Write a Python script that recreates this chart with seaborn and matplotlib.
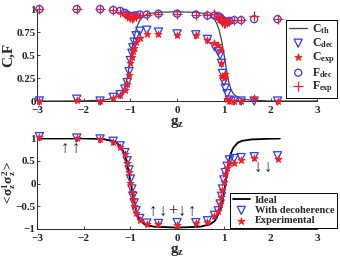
import matplotlib
matplotlib.use("Agg")
import matplotlib.pyplot as plt
import seaborn as sns
import pandas as pd

# coupling values where the points were taken
gz = [-2.95, -2.15, -1.65, -1.37, -1.22, -1.12, -1.07, -1.03, -1.0, -0.97, -0.95, -0.92,
      -0.88, -0.8, -0.65, -0.4, 0.0, 0.4, 0.65, 0.8, 0.88, 0.92, 0.95, 0.97, 1.0, 1.03,
      1.07, 1.12, 1.22, 1.37, 1.65, 2.15]

# top panel: concurrence and fidelity
C_dec = [0.0, 0.02, 0.0, 0.04, 0.07, 0.13, 0.2, 0.32, 0.44, 0.52, 0.58, 0.64, 0.71, 0.76,
         0.77, 0.75, 0.73, 0.72, 0.67, 0.59, 0.54, 0.5, 0.41, 0.3, 0.21, 0.14, 0.08, 0.01,
         0.0, 0.0, 0.0, 0.0]
C_exp = [0.0, 0.01, 0.0, 0.03, 0.06, 0.12, 0.18, 0.28, 0.41, 0.48, 0.54, 0.58, 0.64, 0.69,
         0.73, 0.73, 0.72, 0.72, 0.66, 0.63, 0.61, 0.55, 0.41, 0.27, 0.25, 0.29, 0.02, 0.0,
         0.0, 0.0, 0.03, 0.0]
F_dec = [1.0, 1.0, 1.0, 0.99, 0.98, 0.96, 0.94, 0.93, 0.92, 0.92, 0.92, 0.93, 0.93, 0.94,
         0.94, 0.95, 0.95, 0.94, 0.93, 0.93, 0.92, 0.91, 0.89, 0.88, 0.87, 0.86, 0.86, 0.87,
         0.88, 0.88, 0.89, 0.89]
F_exp = [1.0, 1.0, 1.0, 0.99, 0.97, 0.95, 0.93, 0.92, 0.91, 0.9, 0.91, 0.92, 0.93, 0.94,
         0.94, 0.95, 0.95, 0.94, 0.94, 0.95, 0.93, 0.91, 0.88, 0.86, 0.85, 0.85, 0.86, 0.87,
         0.88, 0.88, 0.92, 0.89]

# theory curve
g_th = [-3, -2.5, -2, -1.6, -1.4, -1.3, -1.2, -1.15, -1.1, -1.05, -1.0, -0.95, -0.9, -0.85,
        -0.8, -0.7, -0.6, -0.4, 0, 0.4, 0.6, 0.7, 0.8, 0.85, 0.9, 0.95, 1.0, 1.05, 1.1,
        1.15, 1.2, 1.3, 1.4, 1.6, 2, 2.5, 3]
C_th = [0, 0, 0.002, 0.01, 0.025, 0.04, 0.08, 0.12, 0.19, 0.3, 0.47, 0.62, 0.74, 0.82,
        0.88, 0.93, 0.95, 0.965, 0.97, 0.965, 0.95, 0.93, 0.89, 0.84, 0.77, 0.66, 0.52,
        0.36, 0.22, 0.13, 0.08, 0.04, 0.02, 0.01, 0, 0, 0]

# bottom panel: correlation <sz1 sz2>
zz_dec = [1.03, 1.0, 0.98, 0.93, 0.83, 0.68, 0.5, 0.3, 0.1, -0.12, -0.28, -0.43, -0.6, -0.77,
          -0.87, -0.88, -0.86, -0.86, -0.82, -0.7, -0.6, -0.45, -0.28, -0.12, 0.08, 0.24,
          0.38, 0.52, 0.55, 0.57, 0.59, 0.61]
zz_exp = [1.02, 1.0, 0.98, 0.92, 0.8, 0.64, 0.45, 0.25, 0.02, -0.18, -0.33, -0.5, -0.65, -0.8,
          -0.88, -0.9, -0.91, -0.87, -0.84, -0.72, -0.6, -0.46, -0.3, -0.15, 0.04, 0.2,
          0.35, 0.45, 0.45, 0.51, 0.57, 0.53]
g_id = [-3, -2, -1.6, -1.4, -1.3, -1.2, -1.15, -1.1, -1.05, -1.0, -0.95, -0.9, -0.85, -0.8,
        -0.7, -0.5, 0, 0.5, 0.7, 0.8, 0.85, 0.9, 0.95, 1.0, 1.05, 1.1, 1.15, 1.2, 1.3, 1.4,
        1.6, 2.0, 2.2]
zz_id = [0.99, 0.99, 0.98, 0.94, 0.9, 0.8, 0.7, 0.55, 0.32, 0.05, -0.25, -0.5, -0.68, -0.8,
         -0.9, -0.95, -0.97, -0.95, -0.9, -0.83, -0.75, -0.62, -0.5, -0.22, 0.1, 0.45, 0.66,
         0.78, 0.9, 0.94, 0.97, 0.985, 0.99]

# spin configuration labels
spin_top = [("↑", -2.4), ("↑", -2.16)]
spin_mid = [("↑", -0.52), ("↓", -0.31), ("+", -0.1), ("↓", 0.11), ("↑", 0.32)]
spin_right = [("↓", 1.74), ("↓", 1.95)]

sns.set_style("ticks")
plt.rcParams["font.family"] = ["Liberation Serif", "DejaVu Serif"]
plt.rcParams["font.weight"] = "bold"
plt.rcParams["mathtext.fontset"] = "custom"
plt.rcParams["mathtext.rm"] = "Liberation Serif:bold"
plt.rcParams["mathtext.it"] = "Liberation Serif:bold"
plt.rcParams["mathtext.bf"] = "Liberation Serif:bold"
plt.rcParams["xtick.direction"] = "in"
plt.rcParams["ytick.direction"] = "in"

blue = "#2a3cff"
red = "#ff1a1a"

df = pd.DataFrame({"gz": gz, "C_dec": C_dec, "C_exp": C_exp, "F_dec": F_dec,
                   "F_exp": F_exp, "zz_dec": zz_dec, "zz_exp": zz_exp})

fig = plt.figure(figsize=(3.4, 2.59), dpi=100)
ax1 = fig.add_axes([0.109, 0.610, 0.824, 0.355])
ax2 = fig.add_axes([0.109, 0.116, 0.824, 0.351])

# ---- top ----
sns.lineplot(x=g_th, y=C_th, ax=ax1, color="#444444", lw=0.9, label=r"$C_{th}$")
sns.scatterplot(data=df, x="gz", y="C_dec", ax=ax1, marker="v", s=34, facecolor="none",
                edgecolor=blue, linewidth=0.9, label=r"$C_{dec}$", clip_on=False, zorder=3)
sns.scatterplot(data=df, x="gz", y="C_exp", ax=ax1, marker="*", s=28, color=red,
                edgecolor=red, linewidth=0.6, label=r"$C_{exp}$", clip_on=False, zorder=4)
sns.scatterplot(data=df, x="gz", y="F_dec", ax=ax1, marker="o", s=26, facecolor="none",
                edgecolor=blue, linewidth=0.9, label=r"$F_{dec}$", clip_on=False, zorder=3)
sns.scatterplot(data=df, x="gz", y="F_exp", ax=ax1, marker="+", s=45, color=red,
                linewidth=0.9, label=r"$F_{exp}$", clip_on=False, zorder=4)
ax1.set_xlim(-3, 3)
ax1.set_ylim(0, 1)
ax1.set_xticks([-3, -2, -1, 0, 1, 2, 3])
ax1.set_yticks([0, 0.25, 0.5, 0.75, 1])
ax1.set_yticklabels(["0", "0.25", "0.5", "0.75", "1"])
ax1.set_xlabel(r"$g_z$", fontsize=11, labelpad=0)
ax1.set_ylabel("C,F", fontsize=11, fontweight="bold", labelpad=1)
leg1 = ax1.legend(loc="lower left", bbox_to_anchor=(0.89, 0.03), borderaxespad=0,
                  fontsize=8.5, frameon=True, fancybox=False, edgecolor="black",
                  framealpha=1, handlelength=1.5, handletextpad=0.4, labelspacing=0.0,
                  borderpad=0.25)
leg1.get_frame().set_linewidth(0.7)

# ---- bottom ----
sns.lineplot(x=g_id, y=zz_id, ax=ax2, color="black", lw=1.3, label="Ideal")
sns.scatterplot(data=df, x="gz", y="zz_dec", ax=ax2, marker="v", s=34, facecolor="none",
                edgecolor=blue, linewidth=0.9, label="With decoherence", clip_on=False, zorder=3)
sns.scatterplot(data=df, x="gz", y="zz_exp", ax=ax2, marker="*", s=28, color=red,
                edgecolor=red, linewidth=0.6, label="Experimental", clip_on=False, zorder=4)
for txt, gx in spin_top:
    ax2.text(gx, 0.76, txt, ha="center", va="center", fontsize=12, fontweight="normal")
for txt, gx in spin_mid:
    ax2.text(gx, -0.62, txt, ha="center", va="center", fontsize=12, fontweight="normal")
for txt, gx in spin_right:
    ax2.text(gx, 0.35, txt, ha="center", va="center", fontsize=12, fontweight="normal")
ax2.set_xlim(-3, 3)
ax2.set_ylim(-1, 1)
ax2.set_xticks([-3, -2, -1, 0, 1, 2, 3])
ax2.set_yticks([-1, -0.5, 0, 0.5, 1])
ax2.set_yticklabels(["\u22121", "\u22120.5", "0", "0.5", "1"])
ax2.set_xlabel(r"$g_z$", fontsize=11, labelpad=0)
ax2.set_ylabel(r"$<\!\sigma_z^1\sigma_z^2\!>$", fontsize=9.5)
ax2.yaxis.set_label_coords(-0.068, 0.5)
leg2 = ax2.legend(loc="lower left", bbox_to_anchor=(0.69, 0.01), borderaxespad=0,
                  fontsize=7.5, frameon=True, fancybox=False, edgecolor="black",
                  framealpha=1, handlelength=1.6, handletextpad=0.5, labelspacing=0.1,
                  borderpad=0.25)
leg2.get_frame().set_linewidth(0.7)

for ax in (ax1, ax2):
    sns.despine(ax=ax)
    ax.tick_params(labelsize=8, length=2, width=0.6, pad=1)
    ax.tick_params(axis="x", pad=3.5)
    for lab in ax.get_xticklabels() + ax.get_yticklabels():
        lab.set_fontweight("bold")
    ax.spines["left"].set_linewidth(0.7)
    ax.spines["bottom"].set_linewidth(0.7)

fig.savefig("out.png", dpi=100)
